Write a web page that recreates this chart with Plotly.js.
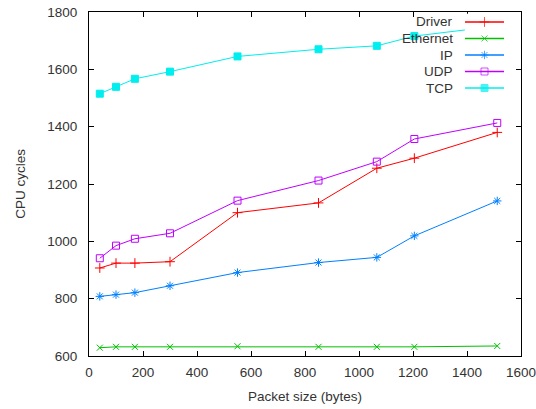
<!DOCTYPE html>
<html><head><meta charset="utf-8">
<script src="https://cdn.plot.ly/plotly-3.0.1.min.js"></script>
<style>html,body{margin:0;padding:0;background:#fff}#c{width:536px;height:409px}</style>
</head><body><div id="c"></div>
<script>
const packetSize = [40, 100, 170, 300, 550, 850, 1066, 1205, 1512];
const driver   = [907, 924, 924, 929, 1100, 1134, 1255, 1290, 1380];
const ethernet = [629, 632, 632, 632, 634, 632, 632, 632, 635];
const ip       = [808, 814, 821, 845, 891, 926, 944, 1019, 1141];
const udp      = [941, 985, 1009, 1028, 1142, 1212, 1278, 1357, 1413];
const tcp      = [1515, 1539, 1567, 1592, 1645, 1670, 1682, 1716, 1751];
const seriesNames = ["Driver", "Ethernet", "IP", "UDP", "TCP"];
const seriesData = [driver, ethernet, ip, udp, tcp];
const xTicks = [0, 200, 400, 600, 800, 1000, 1200, 1400, 1600];
const yTicks = [600, 800, 1000, 1200, 1400, 1600, 1800];

const colors = ["#ff0000", "#00c000", "#0080ff", "#c000ff", "#00eeee"];
const symbols = ["cross-thin-open", "x-thin-open", "asterisk-open", "square-open", "square"];
const sizes = [7, 6, 7, 7, 7];

const traces = [];
seriesNames.forEach((n, i) => {
  traces.push({
    x: packetSize, y: seriesData[i], name: n, type: "scatter", mode: "lines+markers",
    line: {color: colors[i], width: 1},
    marker: {symbol: symbols[i], size: sizes[i], color: colors[i], line: {color: colors[i], width: 1}},
    showlegend: false, xaxis: "x", yaxis: "y", cliponaxis: false
  });
  // legend sample
  traces.push({
    x: [0, 0.5, 1], y: [i, i, i], type: "scatter", mode: "lines+markers",
    line: {color: colors[i], width: 1.5},
    marker: {symbol: symbols[i], size: [0, sizes[i], 0], color: colors[i], line: {color: colors[i], width: 1}},
    showlegend: false, hoverinfo: "skip", xaxis: "x2", yaxis: "y2"
  });
});

const annotations = seriesNames.map((n, i) => ({
  text: n, xref: "paper", yref: "y2", x: 0.847, y: i, xanchor: "right", yanchor: "middle",
  showarrow: false, font: {size: 13.5, color: "#333", family: "Liberation Sans, Arial, sans-serif"}
}));

const axisCommon = {
  showline: true, linecolor: "#000", linewidth: 1, mirror: "ticks",
  ticks: "inside", ticklen: 5, tickcolor: "#000", tickwidth: 1,
  showgrid: false, zeroline: false, ticklabeloverflow: "allow",
  tickfont: {size: 13.5, color: "#333", family: "Liberation Sans, Arial, sans-serif"}
};

const layout = {
  width: 536, height: 409,
  margin: {l: 89, r: 15, t: 12, b: 53},
  paper_bgcolor: "#fff", plot_bgcolor: "#fff",
  font: {family: "Liberation Sans, Arial, sans-serif", color: "#333"},
  xaxis: Object.assign({}, axisCommon, {
    range: [0, 1600], tickvals: xTicks, ticktext: xTicks.map(String), ticklabelstandoff: 4,
    automargin: false,
    title: {text: "Packet size (bytes)", font: {size: 13.5, color: "#333"}, standoff: 12}
  }),
  yaxis: Object.assign({}, axisCommon, {
    range: [600, 1800], tickvals: yTicks, ticktext: yTicks.map(String), ticklabelstandoff: 8,
    automargin: false,
    title: {text: "CPU cycles", font: {size: 13.5, color: "#333"}, standoff: 18}
  }),
  xaxis2: {domain: [0.870, 0.961], range: [0, 1], visible: false, anchor: "y2", fixedrange: true},
  yaxis2: {domain: [0.755, 0.995], range: [4.5, -0.5], visible: false, anchor: "x2", fixedrange: true},
  annotations: annotations,
  showlegend: false
};

Plotly.newPlot("c", traces, layout, {staticPlot: true, displayModeBar: false});
</script></body></html>
